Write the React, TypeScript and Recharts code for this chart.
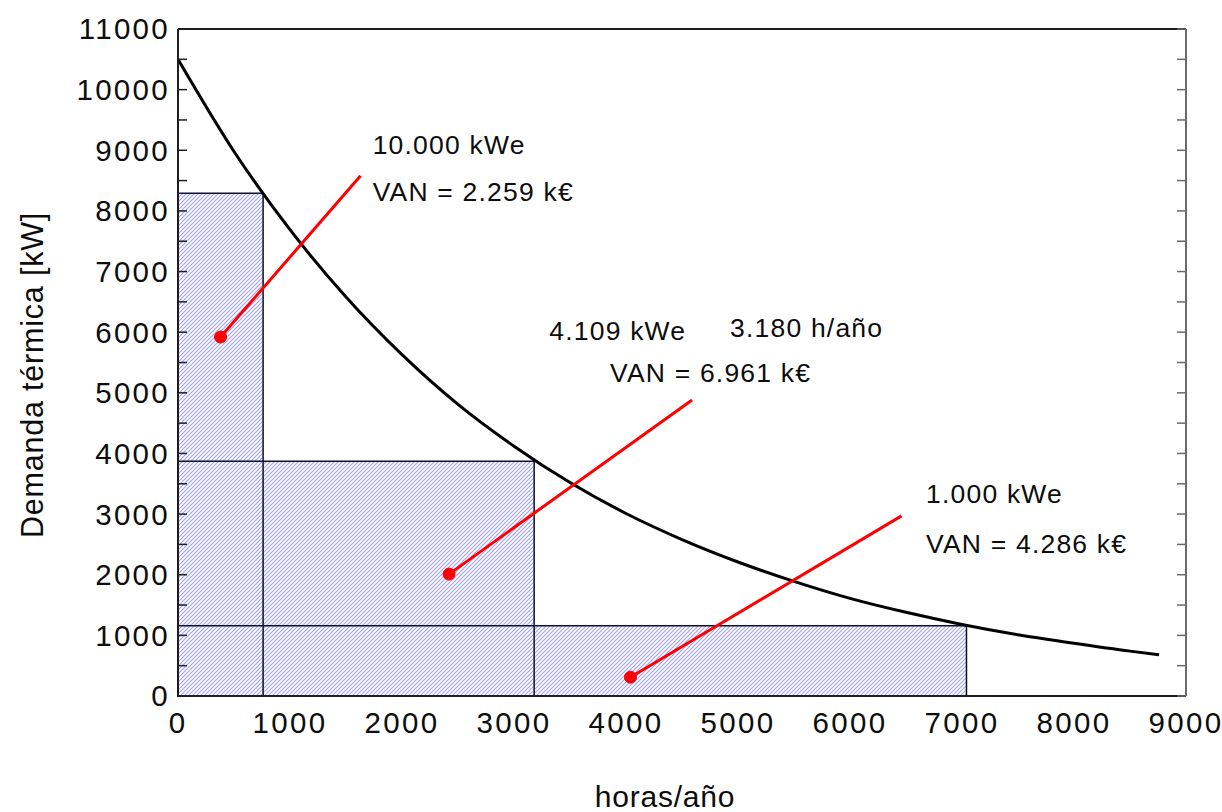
import React from 'react';
import {
  ComposedChart,
  Line,
  Area,
  XAxis,
  YAxis,
  ReferenceArea,
  ReferenceLine,
  ReferenceDot,
} from 'recharts';

// Monotone thermal demand curve (kW) over the hours of the year
const HOURS = [0, 500, 1000, 1500, 2000, 2500, 3000, 3500, 4000, 4500, 5000, 5500, 6000, 6500, 7000, 7500, 8000, 8500, 8760];
const DEMAND = [10500, 8980, 7690, 6580, 5630, 4810, 4120, 3520, 3010, 2580, 2210, 1890, 1610, 1380, 1180, 1010, 870, 740, 680];

// Cogeneration sizing blocks: operating hours × thermal output
const BLOCK_HOURS = [760, 3180, 7040];
const BLOCK_KW = [8290, 3870, 1160];

// Leader lines: dot inside each block, end near its annotation
const DOT_HOURS = [380, 2420, 4040];
const DOT_KW = [5920, 2010, 310];
const LEAD_HOURS = [1630, 4590, 6460];
const LEAD_KW = [8580, 4880, 2970];

// Annotation texts and their anchor (left edge, baseline) in data units
const NOTE_TEXT = ['10.000 kWe', 'VAN = 2.259 k€', '4.109 kWe', '3.180 h/año', 'VAN = 6.961 k€', '1.000 kWe', 'VAN = 4.286 k€'];
const NOTE_HOURS = [1738, 1738, 3315, 4929, 3857, 6679, 6679];
const NOTE_KW = [8938, 8163, 5871, 5925, 5183, 3176, 2353];

// Axis ticks
const X_MAJOR = [0, 1000, 2000, 3000, 4000, 5000, 6000, 7000, 8000, 9000];
const X_MINOR = [0, 500, 1000, 1500, 2000, 2500, 3000, 3500, 4000, 4500, 5000, 5500, 6000, 6500, 7000, 7500, 8000, 8500, 9000];
const Y_MAJOR = [0, 1000, 2000, 3000, 4000, 5000, 6000, 7000, 8000, 9000, 10000, 11000];
const Y_MINOR = [0, 500, 1000, 1500, 2000, 2500, 3000, 3500, 4000, 4500, 5000, 5500, 6000, 6500, 7000, 7500, 8000, 8500, 9000, 9500, 10000, 10500, 11000];

const curveData = HOURS.map((h, i) => ({ h, kw: DEMAND[i] }));

// Staircase outline covering the union of the blocks (filled once with the hatch)
const stairData = [
  ...BLOCK_HOURS.map((h, i) => ({ h: i === 0 ? 0 : BLOCK_HOURS[i - 1], kw: BLOCK_KW[i] })),
  { h: BLOCK_HOURS[BLOCK_HOURS.length - 1], kw: BLOCK_KW[BLOCK_KW.length - 1] },
];

const FONT = '"Liberation Sans", Arial, Helvetica, sans-serif';
const FRAME = '#1e1e1e';

const tickStyle = { fontFamily: FONT, fontSize: 29.5, fill: '#0d0d0d', letterSpacing: 2.3 };
const noLabel = () => <g />;

export default function App() {
  return (
    <div style={{ position: 'absolute', left: 0, top: 0, width: 1222, height: 812, background: '#fff' }}>
      {/* shared hatch pattern */}
      <svg width={0} height={0} style={{ position: 'absolute' }}>
        <defs>
          <pattern id="blockHatch" patternUnits="userSpaceOnUse" width="4" height="4">
            <rect x="0" y="0" width="4" height="4" fill="#ffffff" />
            <path d="M-1,1 L1,-1 M0,4 L4,0 M3,5 L5,3" stroke="#a4a4ef" strokeWidth="1.2" fill="none" />
          </pattern>
        </defs>
      </svg>
      <ComposedChart
        width={1222}
        height={812}
        data={curveData}
        margin={{ top: 29, right: 36, bottom: 0, left: 0 }}
      >
        {/* labelled axes */}
        <XAxis
          dataKey="h"
          type="number"
          domain={[0, 9000]}
          ticks={X_MAJOR}
          allowDataOverflow
          height={116}
          tickLine={false}
          tickSize={0}
          tickMargin={16}
          axisLine={{ stroke: FRAME, strokeWidth: 2 }}
          tick={tickStyle}
          interval={0}
          label={{
            content: (props: any) => {
              const vb = props.viewBox;
              return (
                <text
                  x={vb.x + vb.width / 2 - 17}
                  y={807}
                  textAnchor="middle"
                  style={{ fontFamily: FONT, fontSize: 30, fill: '#0d0d0d', letterSpacing: 0.8 }}
                >
                  horas/año
                </text>
              );
            },
          }}
        />
        <YAxis
          type="number"
          domain={[0, 11000]}
          ticks={Y_MAJOR}
          allowDataOverflow
          width={178}
          tickLine={false}
          tickSize={0}
          tickMargin={8}
          axisLine={{ stroke: FRAME, strokeWidth: 2 }}
          tick={tickStyle}
          interval={0}
          label={{
            content: () => (
              <text
                x={43}
                y={375}
                transform="rotate(-90, 43, 375)"
                textAnchor="middle"
                style={{ fontFamily: FONT, fontSize: 30.5, fill: '#0d0d0d', letterSpacing: 0.8 }}
              >
                Demanda térmica [kW]
              </text>
            ),
          }}
        />

        {/* inward tick marks on all four sides */}
        <XAxis xAxisId="bin" orientation="bottom" mirror type="number" domain={[0, 9000]} ticks={X_MINOR} interval={0} allowDataOverflow tick={noLabel} tickSize={9} tickLine={{ stroke: FRAME, strokeWidth: 1.5 }} axisLine={false} />
        <XAxis xAxisId="tin" orientation="top" mirror type="number" domain={[0, 9000]} ticks={X_MINOR} interval={0} allowDataOverflow tick={noLabel} tickSize={9} tickLine={{ stroke: FRAME, strokeWidth: 1.5 }} axisLine={{ stroke: FRAME, strokeWidth: 2 }} />
        <YAxis yAxisId="lin" orientation="left" mirror type="number" domain={[0, 11000]} ticks={Y_MINOR} interval={0} allowDataOverflow tick={noLabel} tickSize={9} tickLine={{ stroke: FRAME, strokeWidth: 1.5 }} axisLine={false} />
        <YAxis yAxisId="rin" orientation="right" mirror type="number" domain={[0, 11000]} ticks={Y_MINOR} interval={0} allowDataOverflow tick={noLabel} tickSize={9} tickLine={{ stroke: '#6a6a6a', strokeWidth: 1.5 }} axisLine={{ stroke: '#6a6a6a', strokeWidth: 2 }} />

        {/* hatched union of the operating blocks */}
        <Area
          data={stairData}
          dataKey="kw"
          type="stepAfter"
          stroke="none"
          fill="url(#blockHatch)"
          fillOpacity={1}
          baseValue={0}
          dot={false}
          activeDot={false}
          isAnimationActive={false}
        />

        {/* block outlines */}
        {BLOCK_HOURS.map((h, i) => (
          <ReferenceArea
            key={`blk${i}`}
            x1={0}
            x2={h}
            y1={0}
            y2={BLOCK_KW[i]}
            fill="none"
            fillOpacity={0}
            stroke="#101030"
            strokeWidth={1.5}
            ifOverflow="visible"
          />
        ))}

        {/* demand curve */}
        <Line
          dataKey="kw"
          type="monotone"
          stroke="#000"
          strokeWidth={3}
          dot={false}
          activeDot={false}
          isAnimationActive={false}
        />

        {/* red leader lines and dots */}
        {DOT_HOURS.map((h, i) => (
          <ReferenceLine
            key={`lead${i}`}
            segment={[
              { x: h, y: DOT_KW[i] },
              { x: LEAD_HOURS[i], y: LEAD_KW[i] },
            ]}
            stroke="#ff0000"
            strokeWidth={3}
            ifOverflow="visible"
          />
        ))}
        {DOT_HOURS.map((h, i) => (
          <ReferenceDot key={`dot${i}`} x={h} y={DOT_KW[i]} r={6} fill="#ff0000" stroke="#ff0000" ifOverflow="visible" />
        ))}

        {/* annotations */}
        {NOTE_TEXT.map((t, i) => (
          <ReferenceDot
            key={`note${i}`}
            x={NOTE_HOURS[i]}
            y={NOTE_KW[i]}
            r={0}
            ifOverflow="visible"
            shape={(p: any) => (
              <text
                x={p.cx}
                y={p.cy}
                style={{ fontFamily: FONT, fontSize: 26.5, fill: '#0d0d0d', letterSpacing: 1.2 }}
              >
                {t}
              </text>
            )}
          />
        ))}
      </ComposedChart>
    </div>
  );
}
